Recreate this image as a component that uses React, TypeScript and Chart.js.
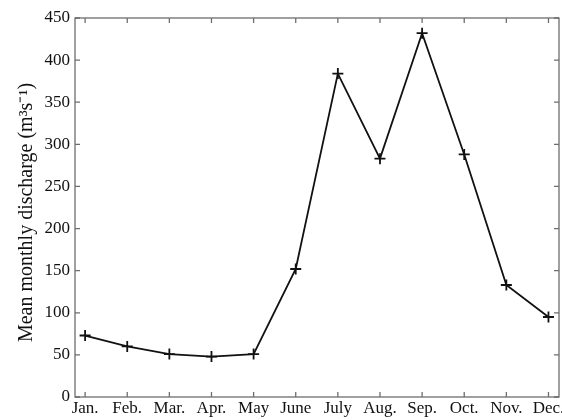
import React, { useEffect, useRef } from "react";
import { Chart, registerables } from "chart.js";

Chart.register(...registerables);

const months = ["Jan.", "Feb.", "Mar.", "Apr.", "May", "June", "July", "Aug.", "Sep.", "Oct.", "Nov.", "Dec."];
const discharge = [73, 60, 51, 48, 51, 152, 384, 283, 432, 288, 133, 95];
const yTicks = [0, 50, 100, 150, 200, 250, 300, 350, 400, 450];
const yTitle = "Mean monthly discharge (m\u00B3s\u207B\u00B9)\u2002";

const FONT = "'Liberation Serif', 'Times New Roman', serif";

const framePlugin = {
  id: "frameTicks",
  afterDraw(chart: any) {
    const { ctx, chartArea } = chart;
    const { left, right, top, bottom } = chartArea;
    const xs = chart.scales.x;
    const ys = chart.scales.y;
    const len = 5;
    ctx.save();
    ctx.strokeStyle = "#6e6e6e";
    ctx.lineWidth = 1.3;
    ctx.strokeRect(left, top, right - left, bottom - top);
    ctx.beginPath();
    for (let i = 1; i <= months.length; i++) {
      const px = xs.getPixelForValue(i);
      ctx.moveTo(px, bottom);
      ctx.lineTo(px, bottom - len);
      ctx.moveTo(px, top);
      ctx.lineTo(px, top + len);
    }
    for (const v of yTicks) {
      const py = ys.getPixelForValue(v);
      ctx.moveTo(left, py);
      ctx.lineTo(left + len, py);
      ctx.moveTo(right, py);
      ctx.lineTo(right - len, py);
    }
    ctx.stroke();
    ctx.restore();
  },
};

export default function App() {
  const ref = useRef<HTMLCanvasElement | null>(null);
  useEffect(() => {
    if (!ref.current) return;
    const chart = new Chart(ref.current, {
      type: "line",
      data: {
        datasets: [
          {
            data: discharge.map((v, i) => ({ x: i + 1, y: v })),
            borderColor: "#111",
            backgroundColor: "#111",
            borderWidth: 1.8,
            pointStyle: "cross",
            pointRadius: 5.5,
            pointBorderWidth: 1.8,
            pointBorderColor: "#111",
            tension: 0,
            fill: false,
            clip: false,
          },
        ],
      },
      options: {
        animation: false,
        responsive: false,
        maintainAspectRatio: false,
        layout: { autoPadding: false, padding: { top: 18, right: 3, left: 0, bottom: 0 } },
        plugins: { legend: { display: false }, tooltip: { enabled: false } },
        scales: {
          x: {
            type: "linear",
            min: 0.76,
            max: 12.25,
            grid: { display: false, drawTicks: false },
            border: { display: false },
            afterBuildTicks: (s: any) => {
              s.ticks = months.map((_, i) => ({ value: i + 1 }));
            },
            afterFit: (s: any) => {
              s.height = 23;
              s.paddingLeft = 0;
              s.paddingRight = 0;
            },
            ticks: {
              autoSkip: false,
              maxRotation: 0,
              padding: 1,
              color: "#111",
              font: { family: FONT, size: 17 },
              callback: (v: any) => months[Math.round(v) - 1] ?? "",
            },
          },
          y: {
            min: 0,
            max: 450,
            grid: { display: false, drawTicks: false },
            border: { display: false },
            afterBuildTicks: (s: any) => {
              s.ticks = yTicks.map((v) => ({ value: v }));
            },
            afterFit: (s: any) => {
              s.width = 75;
              s.paddingTop = 0;
              s.paddingBottom = 0;
            },
            ticks: {
              padding: 5,
              color: "#111",
              font: { family: FONT, size: 17 },
            },
            title: {
              display: true,
              text: yTitle,
              color: "#111",
              padding: { top: 15, bottom: 0 },
              font: { family: FONT, size: 20 },
            },
          },
        },
      },
      plugins: [framePlugin],
    });
    return () => chart.destroy();
  }, []);
  return (
    <div style={{ position: "fixed", left: 0, top: 0, width: 562, height: 420, background: "#fff" }}>
      <canvas ref={ref} width={562} height={420} style={{ width: 562, height: 420 }} />
    </div>
  );
}
